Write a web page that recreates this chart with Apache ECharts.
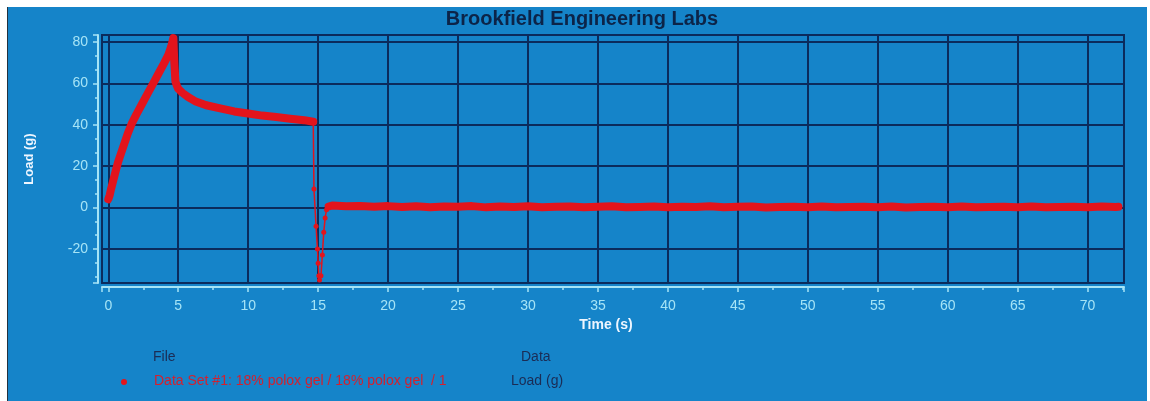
<!DOCTYPE html>
<html>
<head>
<meta charset="utf-8">
<script src="https://cdn.jsdelivr.net/npm/echarts@6/dist/echarts.min.js"></script>
<style>
html,body{margin:0;padding:0;background:#ffffff;width:1150px;height:401px;overflow:hidden;}
#chart{position:absolute;left:7px;top:7px;width:1140px;height:394px;border-left:1px solid #23323f;box-sizing:border-box;}
</style>
</head>
<body>
<div id="chart"></div>
<script>
// Load (g) vs Time (s)
const rampDecay = [
  [0.0, 4], [0.1, 6], [0.2, 9], [0.35, 13], [0.5, 17], [0.7, 22], [0.9, 26],
  [1.1, 30], [1.4, 36], [1.7, 41], [2.0, 45], [2.4, 50], [2.8, 55], [3.2, 60],
  [3.6, 65], [4.0, 70], [4.3, 74], [4.5, 78], [4.65, 82], [4.72, 70], [4.8, 61],
  [4.9, 59], [5.0, 57.5], [5.3, 55.5], [5.7, 53.5], [6.2, 51.5], [7.0, 49.5],
  [8.0, 48], [9.0, 46.5], [10.0, 45.5], [11.0, 44.5], [12.0, 43.8], [13.0, 43],
  [14.0, 42.3], [14.65, 41.5]
];
const dropRecovery = [
  [14.65, 41.5], [14.7, 9], [14.85, -9], [14.95, -20], [15.0, -27], [15.05, -33],
  [15.1, -35], [15.2, -33], [15.3, -23], [15.4, -12], [15.5, -5], [15.6, -1], [15.75, 0.5]
];
const flat = [
  [15.75, 0.5], [16, 1.0], [17, 0.6], [18, 0.8], [19, 0.4], [20, 0.7], [21, 0.3],
  [22, 0.6], [23, 0.2], [24, 0.5], [25, 0.4], [26, 0.7], [27, 0.1], [28, 0.5],
  [29, 0.3], [30, 0.6], [31, 0.2], [32, 0.4], [33, 0.5], [34, 0.1], [35, 0.4],
  [36, 0.6], [37, 0.2], [38, 0.3], [39, 0.5], [40, 0.1], [41, 0.4], [42, 0.3],
  [43, 0.6], [44, 0.2], [45, 0.4], [46, 0.5], [47, 0.0], [48, 0.3], [49, 0.4],
  [50, 0.2], [51, 0.5], [52, 0.1], [53, 0.3], [54, 0.4], [55, 0.2], [56, 0.5],
  [57, 0.0], [58, 0.3], [59, 0.4], [60, 0.2], [61, 0.5], [62, 0.1], [63, 0.3],
  [64, 0.4], [65, 0.2], [66, 0.5], [67, 0.1], [68, 0.3], [69, 0.4], [70, 0.2],
  [71, 0.5], [72, 0.3], [72.2, 0.4]
];
const titleText = 'Brookfield Engineering Labs';
const xName = 'Time (s)';
const yName = 'Load (g)';
const legendFile = 'File';
const legendData = 'Data';
const seriesName = 'Data Set #1: 18% polox gel / 18% polox gel  / 1';
const seriesData = 'Load (g)';

const RED = '#e3141c';
const NAVY = '#0b2b5c';
const CYAN = '#a6e4f6';
const FONT = 'Liberation Sans, Arial, sans-serif';

const chart = echarts.init(document.getElementById('chart'));
chart.setOption({
  backgroundColor: '#1584c9',
  animation: false,
  title: {
    text: titleText, left: 574, top: 2, textAlign: 'center', padding: 0,
    textStyle: {color: '#0c2448', fontSize: 20, fontWeight: 'bold', fontFamily: FONT}
  },
  grid: {
    left: 94, top: 28, width: 1022, height: 248, show: true,
    borderColor: NAVY, borderWidth: 2, backgroundColor: 'transparent'
  },
  xAxis: {
    type: 'value', min: -0.45, max: 72.6, splitNumber: 15, offset: 4,
    name: xName, nameLocation: 'middle', nameGap: 31,
    nameTextStyle: {color: '#eef6ff', fontSize: 14, fontWeight: 'bold', fontFamily: FONT, padding: [0, 14, 0, 0]},
    axisLine: {show: true, onZero: false, lineStyle: {color: CYAN, width: 2}},
    axisTick: {show: true, length: 5, lineStyle: {color: CYAN, width: 1.5}},
    minorTick: {show: true, splitNumber: 2, length: 3, lineStyle: {color: CYAN, width: 1.5}},
    axisLabel: {color: CYAN, fontSize: 14, margin: 12, fontFamily: FONT, showMinLabel: false, showMaxLabel: false},
    splitLine: {show: true, lineStyle: {color: NAVY, width: 2}}
  },
  yAxis: {
    type: 'value', min: -36.5, max: 83.5, splitNumber: 6, offset: 4,
    name: yName, nameLocation: 'middle', nameGap: 62, nameRotate: 90,
    nameTextStyle: {color: '#eef6ff', fontSize: 13, fontWeight: 'bold', fontFamily: FONT},
    axisLine: {show: true, onZero: false, lineStyle: {color: CYAN, width: 2}},
    axisTick: {show: true, length: 5, lineStyle: {color: CYAN, width: 1.5}},
    minorTick: {show: true, splitNumber: 3, length: 3, lineStyle: {color: CYAN, width: 1.5}},
    axisLabel: {color: CYAN, fontSize: 14, margin: 10, fontFamily: FONT, showMinLabel: false, showMaxLabel: false},
    splitLine: {show: true, lineStyle: {color: NAVY, width: 2}}
  },
  series: [
    {name: seriesName, type: 'line', data: rampDecay, showSymbol: false, symbol: 'none',
     lineStyle: {color: RED, width: 8, cap: 'round', join: 'round'}, z: 3},
    {name: seriesName + ' ', type: 'line', data: dropRecovery, symbol: 'circle', symbolSize: 5,
     itemStyle: {color: RED}, lineStyle: {color: RED, width: 1.5}, z: 3},
    {name: seriesName + '  ', type: 'line', data: flat, showSymbol: false, symbol: 'none',
     lineStyle: {color: RED, width: 8, cap: 'round', join: 'round'}, z: 3}
  ],
  graphic: [
    {type: 'text', left: 145, top: 343, style: {text: legendFile, fill: '#1b2c55', font: '14px ' + FONT}},
    {type: 'text', left: 513, top: 343, style: {text: legendData, fill: '#1b2c55', font: '14px ' + FONT}},
    {type: 'circle', shape: {cx: 116, cy: 375, r: 3}, style: {fill: RED}},
    {type: 'text', left: 146, top: 367, style: {text: seriesName, fill: '#d4202e', font: '14px ' + FONT}},
    {type: 'text', left: 503, top: 367, style: {text: seriesData, fill: '#1b2c55', font: '14px ' + FONT}}
  ]
});
</script>
</body>
</html>
